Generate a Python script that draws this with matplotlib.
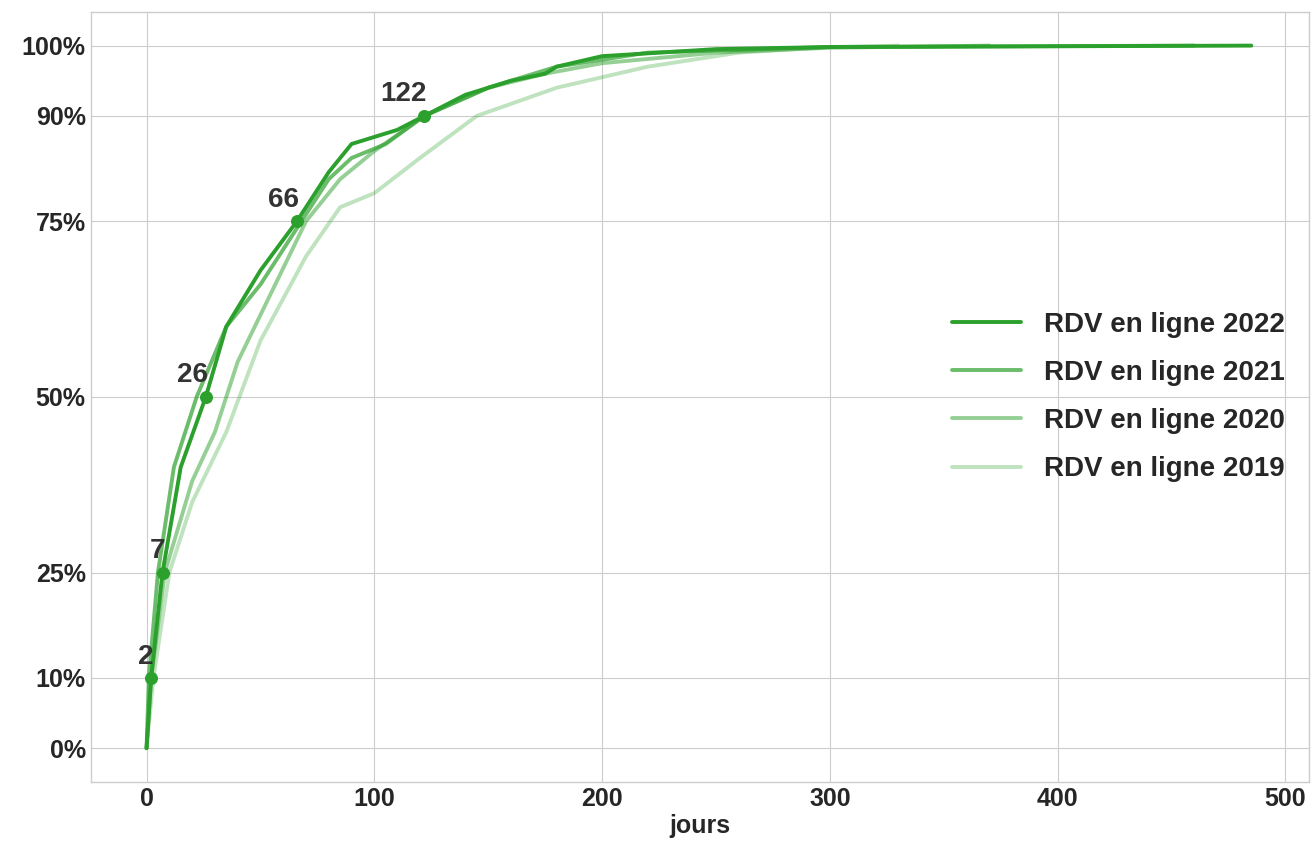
import matplotlib
matplotlib.use("Agg")
import matplotlib.pyplot as plt

plt.style.use("seaborn-v0_8-whitegrid")
plt.rcParams['font.family'] = ['Liberation Sans', 'DejaVu Sans']
plt.rcParams['font.weight'] = 'bold'

days_2022 = [0, 2, 7, 15, 26, 35, 50, 66, 80, 90, 100, 110, 122, 140, 160, 175, 180, 200, 250, 300, 485]
pct_2022 = [0, 10, 25, 40, 50, 60, 68, 75, 82, 86, 87, 88, 90, 93, 95, 96, 97, 98.5, 99.5, 99.8, 100]
days_2021 = [0, 1, 5, 12, 22, 35, 50, 66, 80, 90, 105, 122, 150, 180, 220, 300, 460]
pct_2021 = [0, 10, 25, 40, 50, 60, 66, 74, 81, 84, 86, 90, 94, 97, 99, 99.8, 100]
days_2020 = [0, 2, 8, 20, 30, 40, 55, 70, 85, 100, 122, 150, 175, 200, 250, 300, 370]
pct_2020 = [0, 10, 25, 38, 45, 55, 65, 75, 81, 85, 90, 94, 96, 97.5, 99, 99.7, 100]
days_2019 = [0, 3, 10, 20, 35, 50, 70, 85, 100, 120, 145, 180, 220, 260, 300, 330]
pct_2019 = [0, 10, 25, 35, 45, 58, 70, 77, 79, 84, 90, 94, 97, 99, 99.8, 100]

labels = ["RDV en ligne 2022", "RDV en ligne 2021", "RDV en ligne 2020", "RDV en ligne 2019"]
alphas = [1.0, 0.7, 0.5, 0.3]
quant_days = [2, 7, 26, 66, 122]
quant_pct = [10, 25, 50, 75, 90]

green = "#2ca02c"
fig, ax = plt.subplots(figsize=(13.12, 8.49), dpi=100)
fig.subplots_adjust(left=0.069, right=0.998, top=0.986, bottom=0.079)

series = [(days_2022, pct_2022), (days_2021, pct_2021), (days_2020, pct_2020), (days_2019, pct_2019)]
for (d, p), lab, a in zip(series, labels, alphas):
    ax.plot(d, p, color=green, alpha=a, lw=2.8, label=lab)

ax.scatter(quant_days, quant_pct, color=green, s=70, zorder=5)
for d, p in zip(quant_days, quant_pct):
    ax.text(d + 1, p + 1.2, str(d), ha="right", va="bottom", fontsize=20, fontweight="bold", color="#333333")

ax.set_yticks([0, 10, 25, 50, 75, 90, 100])
ax.set_yticklabels(["0%", "10%", "25%", "50%", "75%", "90%", "100%"])
ax.set_xlim(-24.6, 510.5)
ax.set_ylim(-4.8, 104.8)
ax.tick_params(labelsize=18)
for t in ax.get_xticklabels() + ax.get_yticklabels():
    t.set_fontweight("bold")
ax.set_xlabel("jours", fontsize=18, fontweight="bold", labelpad=2)
for s in ax.spines.values():
    s.set_visible(True)
    s.set_color("#cccccc")
ax.legend(loc="center right", prop={"weight": "bold", "size": 20}, handlelength=2.5,
          labelspacing=0.8, bbox_to_anchor=(1.0, 0.5))
plt.savefig("out.png", dpi=100)
